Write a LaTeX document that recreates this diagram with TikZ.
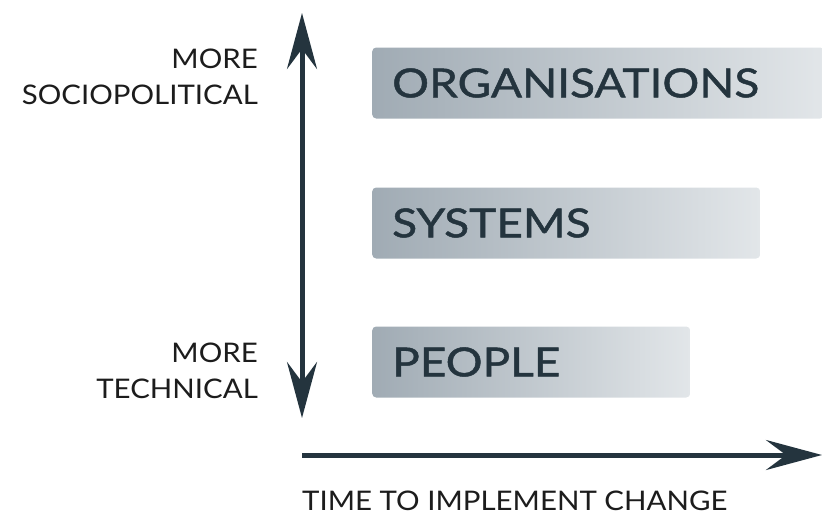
\documentclass[tikz,border=0pt]{standalone}
\usepackage{fontspec}
\setmainfont{Lato}[FakeStretch=1.09]
\newfontfamily\boxfont{Lato}[FakeStretch=1.15, FakeBold=1.2]
\usetikzlibrary{arrows.meta}
\definecolor{ink}{HTML}{24343E}
\definecolor{txt}{HTML}{1C1C1C}
\definecolor{boxl}{HTML}{A0ABB4}
\definecolor{boxr}{HTML}{E2E6E9}
\tikzstyle{axis}=[line width=5pt, draw=ink, >={Stealth[length=56pt, width=30pt, inset=20pt]}]
\tikzstyle{lvl}=[anchor=west, rounded corners=4pt, left color=boxl, right color=boxr, text=ink, font=\boxfont\fontsize{40}{40}\selectfont, inner xsep=20pt, minimum height=71pt, align=left]
\tikzstyle{side}=[inner sep=0pt, align=right, text=txt, font=\fontsize{27}{36}\selectfont]
\tikzstyle{foot}=[inner sep=0pt, text=txt, font=\fontsize{27}{36}\selectfont]

\begin{document}
\begin{tikzpicture}[x=1pt, y=-1pt]
	\useasboundingbox (0,0) rectangle (822,515);
	% levels
	\draw (372,83) node[lvl, text width=412pt] (org) {ORGANISATIONS};
	\draw (372,223) node[lvl, text width=348pt] (sys) {SYSTEMS};
	\draw (372,362) node[lvl, text width=278pt] (ppl) {PEOPLE};
	%
	\coordinate (top) at (302,13);
	\coordinate (bot) at (302,418);
	\coordinate (orig) at (302,455);
	\coordinate (end) at (822,455);
	\draw[axis, <->] (top) -- (bot);
	\draw[axis, ->] (orig) -- (end);
	%
	\draw (258,49) node[side, anchor=north east] (socio) {MORE\\SOCIOPOLITICAL};
	\draw (258,343) node[side, anchor=north east] (tech) {MORE\\TECHNICAL};
	\draw (302,491) node[foot, anchor=north west] (time) {TIME TO IMPLEMENT CHANGE};
\end{tikzpicture}
\end{document}
